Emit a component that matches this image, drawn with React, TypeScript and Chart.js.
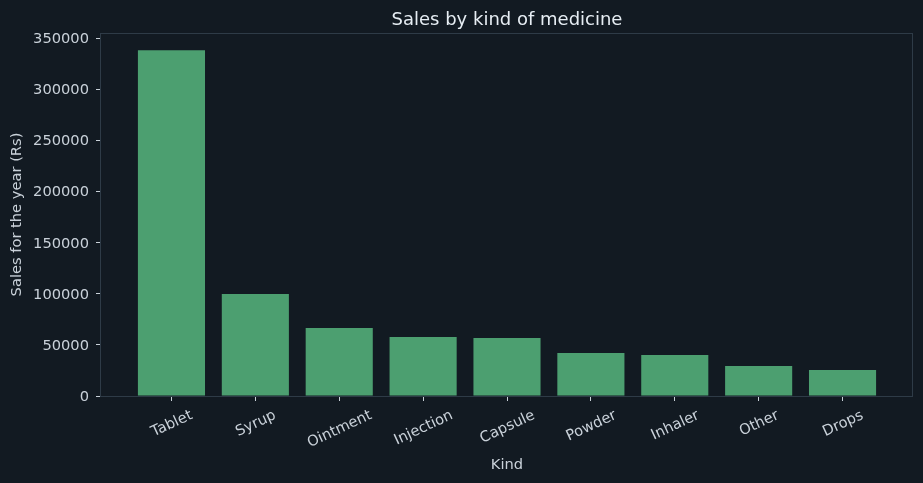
import React, { useEffect, useRef } from "react";
import { Chart, registerables } from "chart.js";

Chart.register(...registerables);

const categories: string[] = ["Tablet", "Syrup", "Ointment", "Injection", "Capsule", "Powder", "Inhaler", "Other", "Drops"];
const sales: number[] = [338300, 99800, 66500, 57700, 56800, 42100, 40100, 29400, 25400];
const yTicks: number[] = [0, 50000, 100000, 150000, 200000, 250000, 300000, 350000];

const TITLE = "Sales by kind of medicine";
const X_TITLE = "Kind";
const Y_TITLE = "Sales for the year (Rs)";

const BG = "#121a22";
const BAR = "#4c9f70";
const SPINE = "#2e3b47";
const TEXT = "#c9d1d9";
const TITLE_COLOR = "#e6edf3";
const FONT = "'DejaVu Sans', sans-serif";

const W = 923;
const H = 483;

export default function App() {
  const ref = useRef<HTMLCanvasElement | null>(null);

  useEffect(() => {
    const canvas = ref.current;
    if (!canvas) return;
    const maxVal = Math.max(...sales);
    const xMin = -0.4 - 0.05 * (categories.length - 1 + 0.8);
    const xMax = categories.length - 1 + 0.4 + 0.05 * (categories.length - 1 + 0.8);

    const decor = {
      id: "decor",
      beforeDraw(chart: any) {
        const { ctx } = chart;
        ctx.save();
        ctx.fillStyle = BG;
        ctx.fillRect(0, 0, chart.width, chart.height);
        ctx.restore();
      },
      afterDraw(chart: any) {
        const { ctx, chartArea } = chart;
        const { left, right, top, bottom } = chartArea;
        const xs = chart.scales.x;
        ctx.save();
        // spines
        ctx.strokeStyle = SPINE;
        ctx.lineWidth = 1;
        ctx.strokeRect(Math.round(left) - 0.5, Math.round(top) + 0.5, Math.round(right - left), Math.round(bottom - top));
        // title
        ctx.fillStyle = TITLE_COLOR;
        ctx.font = `18px ${FONT}`;
        ctx.textAlign = "center";
        ctx.textBaseline = "alphabetic";
        ctx.fillText(TITLE, (left + right) / 2, 25);
        // x tick labels rotated 25deg, centered bbox
        ctx.fillStyle = TEXT;
        const fs = 14.67;
        ctx.font = `${fs}px ${FONT}`;
        const th = (25 * Math.PI) / 180;
        const hh = fs * 1.17;
        const desc = fs * 0.24;
        const y0 = bottom + 9.8;
        categories.forEach((c, i) => {
          const px = xs.getPixelForValue(i);
          const w = ctx.measureText(c).width;
          const bh = w * Math.sin(th) + hh * Math.cos(th);
          const cy = y0 + bh / 2;
          ctx.save();
          ctx.translate(px, cy);
          ctx.rotate(-th);
          ctx.textAlign = "center";
          ctx.textBaseline = "alphabetic";
          ctx.fillText(c, 0, hh / 2 - desc);
          ctx.restore();
        });
        // axis titles
        ctx.textAlign = "center";
        ctx.textBaseline = "middle";
        ctx.fillText(X_TITLE, (left + right) / 2, 465);
        ctx.save();
        ctx.translate(17, (top + bottom) / 2);
        ctx.rotate(-Math.PI / 2);
        ctx.fillText(Y_TITLE, 0, 0);
        ctx.restore();
        ctx.restore();
      },
    };

    const chart = new Chart(canvas, {
      type: "bar",
      data: {
        datasets: [
          {
            data: categories.map((c, i) => ({ x: i, y: sales[i] })),
            backgroundColor: BAR,
            borderWidth: 0,
            barPercentage: 1,
            categoryPercentage: 0.8,
          },
        ],
      },
      options: {
        animation: false,
        responsive: false,
        maintainAspectRatio: false,
        devicePixelRatio: 1,
        layout: { padding: { left: 0, top: 33, right: 10, bottom: 0 } },
        plugins: {
          legend: { display: false },
          title: { display: false },
          tooltip: { enabled: false },
        },
        scales: {
          x: {
            type: "linear",
            offset: false,
            min: xMin,
            max: xMax,
            afterBuildTicks: (scale: any) => {
              scale.ticks = categories.map((_, i) => ({ value: i }));
            },
            afterFit: (scale: any) => {
              scale.height = H - 396;
            },
            ticks: { display: false },
            grid: {
              offset: false,
              drawOnChartArea: false,
              drawTicks: true,
              tickLength: 5,
              tickColor: TEXT,
              color: TEXT,
            },
            border: { display: false },
          },
          y: {
            type: "linear",
            min: 0,
            max: maxVal * 1.05,
            afterBuildTicks: (scale: any) => {
              scale.ticks = yTicks.map((v) => ({ value: v }));
            },
            afterFit: (scale: any) => {
              scale.width = 101;
            },
            ticks: {
              color: TEXT,
              font: { family: FONT, size: 14.67 },
              padding: 7,
              labelOffset: 1,
              callback: (v: any) => String(v),
            },
            grid: {
              drawOnChartArea: false,
              drawTicks: true,
              tickLength: 5,
              tickColor: TEXT,
              color: TEXT,
            },
            border: { display: false },
          },
        },
      },
      plugins: [decor],
    } as any);

    return () => chart.destroy();
  }, []);

  return (
    <div style={{ position: "fixed", left: 0, top: 0, width: W, height: H, background: BG }}>
      <canvas ref={ref} width={W} height={H} style={{ display: "block", width: W, height: H }} />
    </div>
  );
}
